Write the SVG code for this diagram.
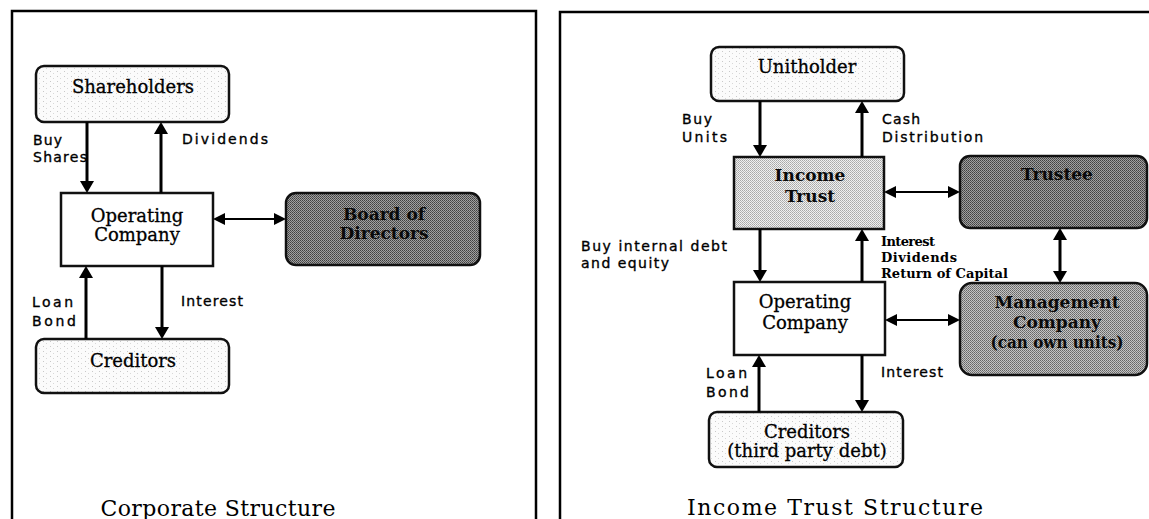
<svg xmlns="http://www.w3.org/2000/svg" width="1149" height="519" viewBox="0 0 1149 519">
<style>
.frame{fill:none;stroke:#000;stroke-width:2.5}
.box{stroke:#111;stroke-width:2.5}
.nt{font-family:"DejaVu Serif","Liberation Serif",serif;font-size:18px;fill:#000;stroke:#000;stroke-width:0.3;text-anchor:middle}
.nb{font-family:"DejaVu Serif","Liberation Serif",serif;font-size:17px;font-weight:bold;fill:#0a0a0a;text-anchor:middle}
.lb{font-family:"DejaVu Sans","Liberation Sans",sans-serif;font-size:14px;fill:#000;stroke:#000;stroke-width:0.35}
.ls{font-family:"DejaVu Serif","Liberation Serif",serif;font-size:13px;font-weight:bold;fill:#000}
.title{font-family:"DejaVu Serif","Liberation Serif",serif;font-size:22px;fill:#000;text-anchor:middle}
.thick{stroke:#000;stroke-width:3;fill:none}
.thin{stroke:#000;stroke-width:2;fill:none}
</style>
<defs>
<marker id="ah" viewBox="0 0 12 14" refX="6" refY="7" markerWidth="12" markerHeight="14" markerUnits="userSpaceOnUse" orient="auto-start-reverse">
<path d="M0,0 L12,7 L0,14 z" fill="#000"/>
</marker>
<marker id="ahs" viewBox="0 0 12 12" refX="6" refY="6" markerWidth="12" markerHeight="12" markerUnits="userSpaceOnUse" orient="auto-start-reverse">
<path d="M0,0 L12,6 L0,12 z" fill="#000"/>
</marker>
<pattern id="light" width="7" height="5" patternUnits="userSpaceOnUse">
<rect width="7" height="5" fill="#fbfbfb"/>
<rect x="1" y="1" width="1" height="1" fill="#c8c8c8"/>
<rect x="4" y="3" width="1" height="1" fill="#d8d8d8"/>
</pattern>
<pattern id="income" width="2" height="2" patternUnits="userSpaceOnUse">
<rect width="2" height="2" fill="#f0f0f0"/>
<rect x="0" y="0" width="1" height="1" fill="#a8a8a8"/>
<rect x="1" y="1" width="1" height="1" fill="#b8b8b8"/>
</pattern>
<pattern id="dark" width="2" height="2" patternUnits="userSpaceOnUse">
<rect width="2" height="2" fill="#a0a0a0"/>
<rect x="0" y="0" width="1" height="1" fill="#404040"/>
<rect x="1" y="1" width="1" height="1" fill="#555"/>
</pattern>
<pattern id="mgmt" width="2" height="2" patternUnits="userSpaceOnUse">
<rect width="2" height="2" fill="#c4c4c4"/>
<rect x="0" y="0" width="1" height="1" fill="#666"/>
<rect x="1" y="1" width="1" height="1" fill="#7a7a7a"/>
</pattern>
</defs>
<rect width="1149" height="519" fill="#fff"/>

<g id="panel-left">
<path class="frame" d="M12,519 V11 H536 V519"/>
<text class="title" x="218" y="516" textLength="235">Corporate Structure</text>
</g>
<g id="panel-right">
<path class="frame" d="M560,519 V12 H1149"/>
<text class="title" x="835" y="515" textLength="296">Income Trust Structure</text>
</g>

<g id="shareholders">
<rect class="box" x="36" y="66" width="193" height="56" rx="8" fill="url(#light)"/>
<text class="nt" x="133" y="93">Shareholders</text>
</g>
<g id="opco-left">
<rect class="box" x="61" y="193" width="152" height="73" fill="#fff"/>
<text class="nt" x="137" y="222">Operating</text>
<text class="nt" x="137" y="241">Company</text>
</g>
<g id="board">
<rect class="box" x="286" y="193" width="194" height="72" rx="10" fill="url(#dark)"/>
<text class="nb" x="384" y="220" font-size="18">Board of</text>
<text class="nb" x="384" y="239" font-size="18">Directors</text>
</g>
<g id="creditors-left">
<rect class="box" x="36" y="339" width="193" height="54" rx="8" fill="url(#light)"/>
<text class="nt" x="133" y="367">Creditors</text>
</g>

<g id="unitholder">
<rect class="box" x="711" y="47" width="193" height="54" rx="8" fill="url(#light)"/>
<text class="nt" x="807" y="73">Unitholder</text>
</g>
<g id="income-trust">
<rect class="box" x="734" y="157" width="150" height="72" fill="url(#income)"/>
<text class="nb" x="810" y="181">Income</text>
<text class="nb" x="810" y="202">Trust</text>
</g>
<g id="trustee">
<rect class="box" x="960" y="156" width="187" height="72" rx="10" fill="url(#dark)"/>
<text class="nb" x="1057" y="180">Trustee</text>
</g>
<g id="opco-right">
<rect class="box" x="734" y="282" width="151" height="73" fill="#fff"/>
<text class="nt" x="805" y="308">Operating</text>
<text class="nt" x="805" y="329">Company</text>
</g>
<g id="management">
<rect class="box" x="960" y="283" width="187" height="92" rx="12" fill="url(#mgmt)"/>
<text class="nb" x="1057" y="308" textLength="125">Management</text>
<text class="nb" x="1057" y="328">Company</text>
<text class="nb" x="1057" y="348" textLength="133" lengthAdjust="spacingAndGlyphs">(can own units)</text>
</g>
<g id="creditors-right">
<rect class="box" x="709" y="412" width="194" height="55" rx="8" fill="url(#light)"/>
<text class="nt" x="807" y="438">Creditors</text>
<text class="nt" x="807" y="457" font-size="16">(third party debt)</text>
</g>

<g id="connectors">
<line class="thick" x1="87" y1="122" x2="87" y2="187" marker-end="url(#ah)"/>
<line class="thick" x1="161" y1="193" x2="161" y2="128" marker-end="url(#ah)"/>
<line class="thick" x1="86" y1="339" x2="86" y2="272" marker-end="url(#ah)"/>
<line class="thick" x1="162" y1="266" x2="162" y2="333" marker-end="url(#ah)"/>
<line class="thin" x1="219" y1="219" x2="280" y2="219" marker-start="url(#ahs)" marker-end="url(#ahs)"/>

<line class="thick" x1="760" y1="101" x2="760" y2="151" marker-end="url(#ah)"/>
<line class="thick" x1="862" y1="157" x2="862" y2="107" marker-end="url(#ah)"/>
<line class="thick" x1="760" y1="229" x2="760" y2="276" marker-end="url(#ah)"/>
<line class="thick" x1="862" y1="282" x2="862" y2="235" marker-end="url(#ah)"/>
<line class="thick" x1="759" y1="412" x2="759" y2="361" marker-end="url(#ah)"/>
<line class="thick" x1="862" y1="355" x2="862" y2="406" marker-end="url(#ah)"/>
<line class="thin" x1="890" y1="192" x2="954" y2="192" marker-start="url(#ahs)" marker-end="url(#ahs)"/>
<line class="thin" x1="891" y1="320" x2="954" y2="320" marker-start="url(#ahs)" marker-end="url(#ahs)"/>
<line class="thick" x1="1060" y1="234" x2="1060" y2="277" marker-start="url(#ah)" marker-end="url(#ah)"/>

<g id="labels">
<text class="lb" x="33" y="145" textLength="29">Buy</text>
<text class="lb" x="33" y="162" textLength="54">Shares</text>
<text class="lb" x="182" y="144" textLength="86">Dividends</text>
<text class="lb" x="32" y="307" textLength="41">Loan</text>
<text class="lb" x="32" y="326" textLength="44">Bond</text>
<text class="lb" x="181" y="306" textLength="62">Interest</text>

<text class="lb" x="682" y="124" textLength="30">Buy</text>
<text class="lb" x="682" y="142" textLength="45">Units</text>
<text class="lb" x="882" y="124" textLength="38">Cash</text>
<text class="lb" x="882" y="142" textLength="101">Distribution</text>
<text class="lb" x="581" y="251" textLength="146">Buy internal debt</text>
<text class="lb" x="581" y="268" textLength="88">and equity</text>
<text class="ls" x="881" y="246" textLength="54">Interest</text>
<text class="ls" x="881" y="262" textLength="76">Dividends</text>
<text class="ls" x="881" y="278" textLength="127">Return of Capital</text>
<text class="lb" x="706" y="378" textLength="41">Loan</text>
<text class="lb" x="706" y="397" textLength="43">Bond</text>
<text class="lb" x="881" y="377" textLength="62">Interest</text>
</g>
</g>
</svg>
